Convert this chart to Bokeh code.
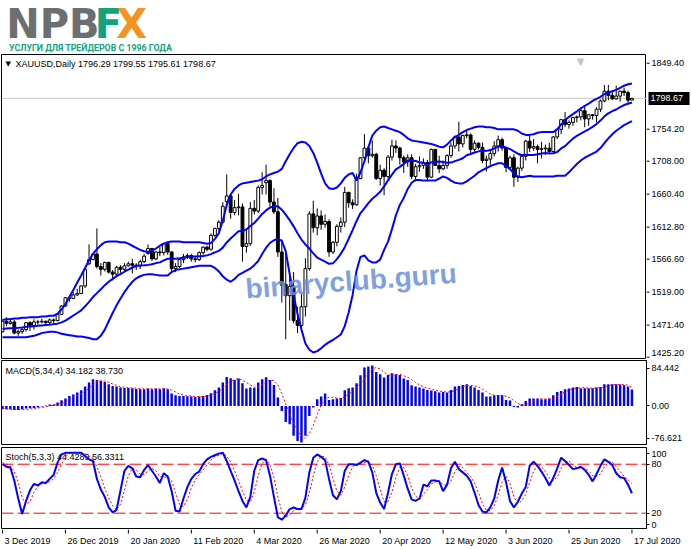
from bokeh.plotting import figure
from bokeh.layouts import column, row
from bokeh.models import (ColumnDataSource, Range1d, FixedTicker, Span, Label)
from bokeh.core.properties import value
from bokeh.embed import file_html
from bokeh.resources import INLINE

# ---------------------------------------------------------------- data
SYMBOL = "XAUUSD,Daily"
OPEN = [1462,1477,1474,1476,1460,1462,1465,1475,1471,1476,
        1476,1477,1475,1479,1478,1487,1499,1511,1510,1515,
        1517,1528,1560,1566,1574,1556,1552,1562,1548,1545,
        1555,1552,1557,1560,1558,1557,1563,1575,1582,1567,
        1577,1576,1589,1577,1553,1556,1566,1570,1572,1567,
        1566,1576,1584,1581,1601,1611,1620,1650,1658,1634,
        1641,1642,1585,1589,1640,1636,1670,1677,1680,1649,
        1635,1577,1530,1514,1527,1478,1471,1498,1553,1632,
        1612,1629,1617,1621,1577,1591,1614,1620,1663,1648,
        1645,1683,1713,1727,1716,1718,1683,1695,1686,1714,
        1730,1727,1713,1707,1713,1686,1700,1702,1706,1685,
        1725,1702,1697,1702,1716,1730,1743,1733,1745,1746,
        1725,1734,1728,1709,1711,1719,1730,1739,1727,1699,
        1713,1685,1698,1715,1737,1727,1729,1725,1726,1727,
        1722,1743,1754,1768,1761,1764,1771,1772,1781,1769,
        1775,1774,1783,1795,1809,1803,1798,1802,1809,1807,
        1796.29]
HIGH = [1478,1483,1481,1479,1465,1467,1476,1477,1480,1479,
        1481,1478,1481,1481,1488,1500,1512,1514,1519,1524,
        1529,1553,1588,1576,1611,1561,1563,1563,1551,1557,
        1558,1561,1563,1567,1561,1566,1574,1588,1583,1578,
        1584,1590,1592,1578,1561,1568,1574,1575,1574,1570,
        1578,1585,1586,1604,1612,1623,1649,1689,1660,1652,
        1661,1647,1611,1649,1652,1673,1692,1703,1682,1669,
        1655,1595,1575,1547,1548,1498,1516,1568,1636,1651,
        1640,1637,1631,1624,1593,1617,1627,1671,1664,1653,
        1690,1714,1747,1730,1738,1720,1703,1698,1717,1739,
        1738,1729,1716,1718,1718,1704,1715,1712,1710,1726,
        1726,1716,1709,1718,1735,1745,1765,1746,1753,1748,
        1738,1735,1735,1716,1723,1737,1745,1742,1729,1716,
        1718,1700,1718,1739,1745,1740,1732,1736,1732,1735,
        1744,1756,1769,1779,1767,1772,1774,1786,1788,1776,
        1776,1786,1797,1818,1818,1809,1817,1810,1814,1810,
        1799.55]
LOW = [1461,1470,1472,1458,1456,1459,1462,1463,1465,1472,
       1474,1472,1472,1474,1477,1486,1498,1505,1509,1514,
       1516,1525,1558,1565,1553,1543,1549,1546,1536,1542,
       1547,1549,1556,1546,1551,1552,1561,1573,1564,1565,
       1571,1572,1573,1548,1548,1554,1561,1567,1563,1562,
       1564,1573,1578,1579,1599,1606,1618,1643,1625,1630,
       1630,1563,1576,1586,1631,1633,1660,1660,1640,1632,
       1570,1504,1451,1478,1474,1460,1467,1484,1550,1605,
       1601,1609,1612,1570,1574,1585,1605,1613,1641,1639,
       1644,1682,1706,1705,1713,1681,1673,1659,1683,1709,
       1720,1703,1691,1700,1682,1679,1693,1697,1681,1684,
       1701,1691,1695,1697,1713,1726,1722,1728,1741,1718,
       1722,1725,1705,1693,1703,1715,1722,1723,1692,1695,
       1671,1678,1694,1709,1721,1723,1705,1712,1717,1719,
       1720,1740,1747,1757,1755,1759,1764,1767,1757,1759,
       1768,1764,1779,1793,1796,1796,1797,1794,1802,1791,
       1795.61]
CLOSE = [1477,1474,1476,1460,1462,1465,1475,1471,1476,1476,
         1477,1475,1479,1478,1487,1499,1511,1510,1515,1517,
         1528,1552,1566,1574,1556,1552,1562,1548,1545,1555,
         1552,1557,1560,1558,1557,1563,1571,1582,1567,1577,
         1576,1589,1577,1553,1556,1566,1570,1572,1567,1566,
         1576,1584,1581,1601,1611,1620,1643,1658,1634,1641,
         1642,1585,1589,1640,1636,1670,1673,1680,1649,1635,
         1577,1529,1514,1527,1478,1471,1498,1553,1632,1612,
         1629,1617,1621,1577,1591,1614,1620,1663,1648,1645,
         1683,1713,1727,1716,1718,1683,1695,1686,1714,1730,
         1727,1713,1707,1713,1686,1700,1702,1706,1685,1725,
         1702,1697,1702,1716,1730,1743,1733,1745,1746,1725,
         1734,1728,1709,1711,1719,1730,1739,1727,1699,1713,
         1685,1698,1715,1737,1727,1729,1725,1726,1727,1722,
         1743,1754,1768,1761,1764,1771,1772,1781,1769,1775,
         1774,1783,1795,1809,1803,1798,1802,1809,1807,1796,
         1798.67]
BB_UPPER = [1479,1480,1480,1481,1481,1482,1482,1483,1483,1483,
            1484,1484,1485,1485,1488,1494,1502,1512,1522,1533,
            1543,1554,1565,1574,1581,1587,1591,1592,1592,1592,
            1591,1591,1589,1586,1583,1580,1578,1577,1579,1582,
            1586,1589,1591,1592,1592,1592,1591,1591,1591,1591,
            1591,1590,1589,1590,1596,1604,1622,1645,1660,1668,
            1673,1676,1677,1678,1679,1680,1682,1686,1689,1691,
            1693,1697,1708,1718,1727,1734,1736,1735,1730,1720,
            1706,1690,1676,1669,1668,1670,1676,1684,1689,1691,
            1680,1692,1708,1728,1745,1752,1757,1758,1756,1754,
            1752,1750,1746,1741,1738,1737,1736,1735,1734,1733,
            1731,1729,1728,1732,1738,1743,1746,1750,1753,1755,
            1757,1758,1758,1757,1757,1756,1754,1754,1754,1754,
            1754,1752,1748,1746,1746,1747,1749,1750,1750,1750,
            1750,1754,1761,1767,1772,1776,1780,1784,1788,1791,
            1795,1798,1801,1805,1807,1809,1811,1814,1817,1819,
            1820]
BB_MIDDLE = [1466,1466.5,1467,1467,1467.5,1468,1469,1469.5,1470,1470.5,
             1471,1471.5,1472,1472.9,1473.6,1475.4,1477.9,1481.5,1485.3,1489.0,
             1492.8,1498.6,1505.0,1512.0,1517.6,1523.1,1529.1,1534.1,1538.2,1542.2,
             1545.1,1548.5,1551.7,1554.6,1556.7,1557.5,1557.9,1558.4,1559.2,1561.0,
             1562.0,1564.9,1567.2,1567.1,1567.4,1568.0,1568.7,1569.7,1570.4,1570.6,
             1571.0,1571.1,1572.1,1573.9,1576.4,1578.6,1583.3,1590.8,1596.4,1601.7,
             1606.9,1607.8,1609.4,1614.6,1618.9,1625.1,1632,1637,1641,1643,
             1643,1638,1631,1623,1614,1604,1595,1588,1582,1575,
             1569,1566,1563,1560,1560.6,1566.7,1574.3,1584.0,1596.1,1608.6,
             1621.8,1633.2,1640.0,1647.4,1653.8,1658.5,1663.8,1671.6,1680.4,1688.6,
             1696.3,1699.9,1704.1,1708.9,1709.1,1708.2,1706.4,1705.7,1703.4,1706.4,
             1706.9,1707.6,1706.8,1705.8,1706.0,1708.1,1710.0,1712.3,1716.6,1718.4,
             1720.6,1722.2,1723.9,1722.9,1724.1,1726.5,1729.1,1729.9,1727.7,1725.6,
             1722.1,1718.8,1716.6,1717.4,1716.9,1717.0,1718.1,1719.2,1719.8,1719.2,
             1719.5,1721.4,1726.4,1729.8,1735.4,1740.6,1744.7,1747.9,1750.9,1754.1,
             1757.6,1761.7,1766.6,1772.8,1777.1,1780.2,1782.6,1786.1,1789.1,1790.9,
             1792.8]
BB_LOWER = [1454,1454,1454,1454,1454,1454,1454,1455,1456,1458,
            1460,1461,1462,1462,1461,1459,1458,1457,1456,1455,
            1455,1454,1453,1451,1451,1456,1465,1477,1489,1500,
            1510,1519,1527,1534,1539,1542,1544,1545,1545,1544,
            1543,1543,1543,1548,1551,1552,1553,1554,1555,1556,
            1557,1557,1557,1557,1554,1549,1542,1537,1534,1538,
            1544,1547,1550,1553,1558,1564,1574,1583,1590,1594,
            1596,1593,1578,1545,1515,1487,1465,1445,1436,1432,
            1434,1438,1443,1447,1450,1454,1458,1470,1490,1515,
            1550,1570,1572,1565,1562,1562,1566,1580,1592,1610,
            1630,1645,1655,1668,1677,1681,1681,1680,1680,1680,
            1680,1683,1686,1684,1680,1677,1676,1676,1679,1683,
            1687,1692,1695,1698,1701,1703,1705,1705,1701,1697,
            1690,1686,1685,1686,1687,1686,1686,1686,1686,1686,
            1686,1687,1687,1687,1692,1698,1704,1709,1713,1716,
            1719,1722,1727,1734,1741,1747,1752,1756,1760,1763,
            1766]
MACD_MAIN = [-7.0,-7.0,-7.0,-8.4,-8.4,-7.0,-5.6,-4.9,-4.2,-3.5,
             -1.4,0.6,2.8,2.8,7.0,11.8,15.3,20.9,23.7,27.9,
             32.8,40.4,48.8,55.8,54.4,52.3,50.2,45.3,41.8,40.4,
             38.3,37.6,37.6,36.9,35.5,34.9,34.9,36.2,34.9,36.2,
             34.9,36.9,34.9,25.8,22.3,20.9,20.9,20.2,19.5,18.8,
             19.5,20.9,23.0,26.5,32.8,38.3,48.8,60.6,57.9,54.4,
             57.2,47.4,36.2,38.3,37.6,48.8,55.8,59.9,54.4,43.9,
             17.4,-10.5,-33.5,-38.3,-62.7,-73.2,-76.621,-62.7,-20.9,-3.5,
             13.9,19.5,25.8,12.5,13.9,15.3,16.7,32.8,36.9,38.3,
             47.4,64.1,80.2,82.2,84.442,71.1,66.2,59.2,64.8,68.3,
             66.2,64.8,57.2,54.4,43.2,40.4,38.3,36.2,33.5,32.1,
             30.7,27.9,29.3,27.9,33.5,40.4,41.8,43.9,45.3,41.8,
             38.3,33.5,27.9,19.5,19.5,22.3,23.0,22.3,12.5,11.2,
             -2.1,-3.5,3.5,10.5,15.3,15.3,15.3,13.9,13.9,15.3,
             22.3,29.3,31.4,34.9,36.2,38.3,39.7,36.9,36.9,36.9,
             36.9,38.3,39.7,45.3,45.3,45.3,45.3,44.6,43.2,40.4,
             34.182]
MACD_SIGNAL = [-5,-6,-7,-7.5,-8,-8,-7.5,-6.5,-5.5,-4.5,
               -3.5,-2,0,1.5,3,6,9,14,18,22,
               26,31,37,44,50,53,52,49,46,43,
               40,39,38,37.5,37,36,35.5,35.5,35.5,35.5,
               35.5,35.5,35.5,33,29,25,22,21,20.5,20,
               19.5,19.5,20.5,22.5,26,30,37,45,51,55,
               57,54,49,44,39,40,45,50,54,53,
               44,26,4,-16,-36,-53,-62.5,-68,-58,-41,
               -18,2,14,18,18,16,14.5,19.5,24,31,
               39,47,57,67,78,80,77,70,65,64,
               65,66,63,60,55,49,44,40,37,35,
               33,31,30,29,29.5,32,36,40,43,43,
               42,40,35,30,25,22,21,22,20,17,
               11,5,2,2,6.5,11,14,15,14.5,14.5,
               16,20,25,29.5,33,35,37,38,38,37.5,
               37,37.5,38,40,42,44,45,45,44.5,43.5,
               38.73]
STOCH_MAIN = [80,77,76,60,38,19,35,48,56,54,
              58,57,62,67,82,92,94,94,94,94,
              94,90,86,84,62,49,40,27,21,24,
              48,72,78,75,65,64,73,79,72,65,
              57,69,65,47,23,22,38,52,62,68,
              71,80,86,89,91,93,94,84,72,60,
              47,35,27,40,72,85,87,85,66,40,
              15,12,17,25,27,25,25,39,70,88,
              92,89,85,62,42,37,47,72,80,80,
              79,82,85,83,70,45,33,25,45,68,
              80,81,66,50,37,35,38,55,53,60,
              60,59,47,55,75,83,74,70,66,59,
              45,30,22,21,27,38,60,76,58,35,
              27,34,44,52,78,83,78,71,63,54,
              63,75,88,84,79,74,75,77,73,67,
              59,68,78,86,83,79,69,64,63,55,
              44.4289]
STOCH_SIGNAL = [82,80,78,71,58,39,31,34,46,53,
                56,56,59,62,70,80,89,93,94,94,
                94,93,90,87,77,65,50,39,29,24,
                31,48,66,75,73,68,67,72,75,72,
                65,64,64,60,45,31,28,37,51,61,
                67,73,79,85,89,91,93,90,83,72,
                60,47,36,34,46,66,81,86,79,64,
                40,22,15,18,23,26,26,30,45,66,
                83,90,89,79,63,47,42,52,66,77,
                80,80,82,83,79,66,49,34,34,46,
                64,76,76,66,51,41,37,43,49,56,
                58,60,55,54,59,71,77,76,70,65,
                57,45,32,24,23,29,42,58,65,56,
                40,32,35,43,58,71,80,77,71,63,
                60,64,75,82,84,79,76,75,75,72,
                66,65,68,77,82,83,77,71,65,61,
                56.3311]
DATE_TICKS = [0, 16, 32, 48, 64, 80, 96, 112, 128, 144, 160]
DATE_LABELS = ["3 Dec 2019", "26 Dec 2019", "20 Jan 2020", "11 Feb 2020",
               "4 Mar 2020", "26 Mar 2020", "20 Apr 2020", "12 May 2020",
               "3 Jun 2020", "25 Jun 2020", "17 Jul 2020"]
PRICE_TICKS = [1849.40, 1754.20, 1708.00, 1660.40, 1612.80,
               1566.60, 1519.00, 1471.40, 1425.20]
PRICE_MIN, PRICE_MAX = 1423.3, 1862.0
MACD_SCALE = [84.442, 0.0, -76.621]
MACD_LO, MACD_HI = -80.75, 95.0
STOCH_LEVELS = [20, 80]
STOCH_SCALE = [100, 80, 20, 0]
STOCH_LO, STOCH_HI = 0.0, 100.5
MACD_PARAMS = "MACD(5,34,4)"
STOCH_PARAMS = "Stoch(5,3,3)"
BRAND = [("NPB", "#6d6e70"), ("F", "#13a27b"), ("X", "#f39321")]
TAGLINE = "УСЛУГИ ДЛЯ ТРЕЙДЕРОВ С 1996 ГОДА"
WATERMARK = "binaryclub.guru"

# ---------------------------------------------------------------- layout / style
N = len(CLOSE)
IDX = list(range(N))
FONT = "Liberation Sans"
AX_FS = "9px"
WIDTH = 691
B_LEFT, B_RIGHT = 1, 45
FRAME_W = WIDTH - B_LEFT - B_RIGHT
X_RANGE = Range1d(-0.25, 163.7)
BARS_PER_PX = (X_RANGE.end - X_RANGE.start) / FRAME_W
LOGO_H = 53
PRICE_FH, MACD_FH, STOCH_FH, STRIP_H = 304, 84, 82, 19
BLUE, RED = "#0000ff", "#ff0000"


def blank_fig(**kw):
    p = figure(output_backend="svg", toolbar_location=None,
               x_axis_location=None, y_axis_location=None, **kw)
    p.grid.visible = False
    p.outline_line_color = None
    p.background_fill_color = "white"
    p.border_fill_color = "white"
    return p


def make_fig(frame_h, y_range, top, bottom, right=B_RIGHT, axis=True):
    p = figure(frame_width=FRAME_W, frame_height=frame_h, x_range=X_RANGE,
               y_range=y_range, output_backend="svg", toolbar_location=None,
               min_border_left=B_LEFT, min_border_right=right,
               min_border_top=top, min_border_bottom=bottom,
               x_axis_location=None, y_axis_location="right" if axis else None)
    p.grid.visible = False
    p.outline_line_color = "black"
    p.outline_line_width = 1
    p.background_fill_color = "white"
    p.border_fill_color = "white"
    if axis:
        ax = p.yaxis[0]
        ax.axis_line_color = "black"
        ax.major_tick_line_color = "black"
        ax.minor_tick_line_color = None
        ax.major_tick_in = 0
        ax.major_tick_out = 3
        ax.major_label_standoff = 2
        ax.major_label_text_font = FONT
        ax.major_label_text_font_size = AX_FS
        ax.major_label_text_color = "black"
    return p


def legend(p, frame_h, text, dy, x=4, level="annotation"):
    p.add_layout(Label(x=x, y=frame_h - dy, x_units="screen", y_units="screen",
                       text=text, text_font=FONT, text_font_size="9px",
                       text_color="black", text_baseline="middle",
                       text_align="left", level=level))


# ---------------------------------------------------------------- logo
logo = blank_fig(width=WIDTH, height=LOGO_H, x_range=Range1d(0, WIDTH),
                 y_range=Range1d(0, LOGO_H), min_border=0)
for (txt, col), xx in zip(BRAND, (5, 100, 123)):
    logo.add_layout(Label(x=xx, y=LOGO_H - 23, text=txt, text_font="DejaVu Sans",
                          text_font_style="bold", text_font_size="40px",
                          text_color=col, text_baseline="middle",
                          text_align="left"))
logo.add_layout(Label(x=8, y=LOGO_H - 47, text=TAGLINE, text_font="Roboto",
                      text_font_style="bold", text_font_size="8.8px",
                      text_color="#13a27b", text_baseline="middle",
                      text_align="left"))

# ---------------------------------------------------------------- price panel
price = make_fig(PRICE_FH, Range1d(PRICE_MIN, PRICE_MAX), 1, 1, right=0, axis=False)
LAST = CLOSE[-1]
price.add_layout(Span(location=LAST, dimension="width", line_color="#c8c8c8",
                      line_width=1, level="underlay"))
src = ColumnDataSource(dict(
    x=IDX, high=HIGH, low=LOW,
    top=[max(o, c) for o, c in zip(OPEN, CLOSE)],
    bottom=[min(o, c) for o, c in zip(OPEN, CLOSE)],
    fill=["white" if c >= o else "black" for o, c in zip(OPEN, CLOSE)]))
price.segment(x0="x", y0="low", x1="x", y1="high", source=src,
              line_color="black", line_width=1)
price.vbar(x="x", width=0.72, top="top", bottom="bottom", source=src,
           fill_color="fill", line_color="black", line_width=1)
for band in (BB_UPPER, BB_MIDDLE, BB_LOWER):
    price.line(IDX, band, line_color=BLUE, line_width=2)

price.add_layout(Label(x=4, y=PRICE_FH - 9, x_units="screen", y_units="screen",
                       text="▼", text_font="DejaVu Sans", text_font_size="7px",
                       text_color="black", text_baseline="middle"))
legend(price, PRICE_FH,
       f"{SYMBOL}  {OPEN[-1]:.2f} {HIGH[-1]:.2f} {LOW[-1]:.2f} {CLOSE[-1]:.2f}",
       9, x=14)
price.add_layout(Label(x=579, y=PRICE_FH - 1, x_units="screen",
                       y_units="screen", text="▼", text_font="DejaVu Sans",
                       text_font_size="10px", text_color="#c4c4c4",
                       text_align="center", text_baseline="top"))
price.add_layout(Label(x=88.6, y=1535, text=WATERMARK, angle=0.075,
                       text_font=FONT, text_font_style="bold",
                       text_font_size="28px", text_color="#6b8fd8",
                       text_alpha=0.85, text_align="center",
                       text_baseline="middle"))

# price scale drawn in its own narrow strip (so the bid box can sit on it)
pax = blank_fig(frame_width=B_RIGHT, frame_height=PRICE_FH,
                x_range=Range1d(0, B_RIGHT), y_range=price.y_range,
                min_border_left=0, min_border_right=0,
                min_border_top=1, min_border_bottom=1)
p_ppu = PRICE_FH / (PRICE_MAX - PRICE_MIN)
label_y = [max(v, PRICE_MIN + 5.5 / p_ppu) for v in PRICE_TICKS]
pax.segment(x0=0, y0=PRICE_TICKS, x1=3, y1=PRICE_TICKS, line_color="black",
            line_width=1)
pax.text(x=5, y=label_y, text=[f"{v:.2f}" for v in PRICE_TICKS],
         text_font=value(FONT), text_font_size="9px", text_color="black",
         text_baseline="middle", text_align="left")
pax.rect(x=[22.5], y=[LAST], width=41, height=13, width_units="screen",
         height_units="screen", fill_color="black", line_color=None)
pax.text(x=[4], y=[LAST], text=[f"{LAST:.2f}"], text_font=value(FONT),
         text_font_size="9px", text_color="white", text_baseline="middle",
         text_align="left")

# ---------------------------------------------------------------- MACD panel
macd = make_fig(MACD_FH, Range1d(MACD_LO, MACD_HI), 1, 1)
m_ppu = MACD_FH / (MACD_HI - MACD_LO)
m_pos = [round(MACD_SCALE[0] - 2.7 / m_ppu, 3), 0,
         round(MACD_SCALE[2] + 4.3 / m_ppu, 3)]
macd.yaxis[0].ticker = FixedTicker(ticks=m_pos)
macd.yaxis[0].major_label_overrides = {
    m_pos[0]: f"{MACD_SCALE[0]:.3f}", 0: "0.00", m_pos[2]: f"{MACD_SCALE[2]:.3f}"}
macd.vbar(x=IDX, top=MACD_MAIN, bottom=0, width=0.62, fill_color=BLUE,
          line_color=None)
macd.line(IDX, MACD_SIGNAL, line_color=RED, line_width=1, line_dash="2 2")
legend(macd, MACD_FH, f"{MACD_PARAMS} {MACD_MAIN[-1]:.3f} {MACD_SIGNAL[-1]:.3f}", 10)

# ---------------------------------------------------------------- Stochastic panel
stoch = make_fig(STOCH_FH, Range1d(STOCH_LO, STOCH_HI), 2, 0)
s_ppu = STOCH_FH / (STOCH_HI - STOCH_LO)
s_pos = [round(STOCH_SCALE[0] - 5.6 / s_ppu, 3), STOCH_SCALE[1], STOCH_SCALE[2],
         round(STOCH_SCALE[3] + 5.0 / s_ppu, 3)]
stoch.yaxis[0].ticker = FixedTicker(ticks=s_pos)
stoch.yaxis[0].major_label_overrides = {p: str(v) for p, v in zip(s_pos, STOCH_SCALE)}
for lvl in STOCH_LEVELS:
    stoch.add_layout(Span(location=lvl, dimension="width", line_color=RED,
                          line_width=1, line_dash="12 4", level="underlay"))
legend(stoch, STOCH_FH,
       f"{STOCH_PARAMS} {STOCH_MAIN[-1]:.4f} {STOCH_SIGNAL[-1]:.4f}", 9,
       level="underlay")
stoch.line(IDX, STOCH_SIGNAL, line_color=RED, line_width=1, line_dash="2 2")
stoch.line(IDX, STOCH_MAIN, line_color=BLUE, line_width=2)

# ---------------------------------------------------------------- date strip
strip_w = WIDTH - B_LEFT
strip = blank_fig(frame_width=strip_w, frame_height=STRIP_H,
                  x_range=Range1d(X_RANGE.start, X_RANGE.start + strip_w * BARS_PER_PX),
                  y_range=Range1d(0, STRIP_H), min_border_left=B_LEFT,
                  min_border_right=0, min_border_top=0, min_border_bottom=0)
strip.segment(x0=DATE_TICKS, y0=STRIP_H, x1=DATE_TICKS, y1=STRIP_H - 4,
              line_color="black", line_width=1)
strip.text(x=DATE_TICKS, y=STRIP_H - 11, text=DATE_LABELS, x_offset=2,
           text_font=value(FONT), text_font_size="9px", text_color="black",
           text_align="left", text_baseline="middle")

layout = column(logo, row(price, pax, spacing=0), macd, stoch, strip, spacing=0)
with open("out.html", "w", encoding="utf-8") as f:
    f.write(file_html(layout, INLINE, title="XAUUSD Daily"))
